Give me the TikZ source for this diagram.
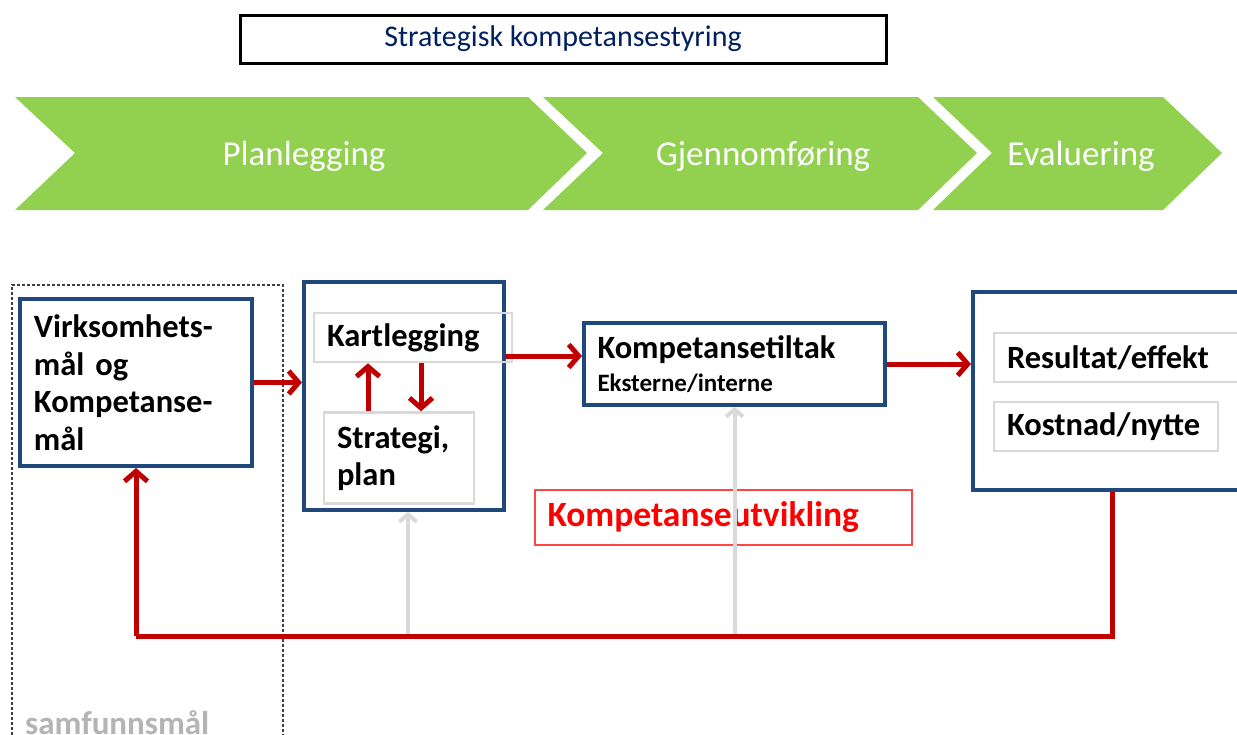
\documentclass[tikz,border=0pt]{standalone}
\usepackage{fontspec}
\setmainfont{Carlito}
\usepackage{tikz}
\usetikzlibrary{arrows.meta}
\usetikzlibrary{positioning}

\definecolor{groenn}{RGB}{146,208,80}
\definecolor{blaa}{RGB}{31,73,125}
\definecolor{marine}{RGB}{0,32,96}
\definecolor{rod}{RGB}{192,0,0}
\definecolor{lysrod}{RGB}{255,70,70}
\definecolor{lysgraa}{RGB}{217,217,217}
\definecolor{mgraa}{RGB}{180,180,180}

\tikzset{
  stor/.style={font=\bfseries\fontsize{32.5}{37.5}\selectfont},
  blaboks/.style={draw=blaa,line width=4pt,stor,align=left,inner xsep=13pt},
  graaboks/.style={draw=lysgraa,line width=2.5pt,stor,align=left,inner xsep=12pt},
  fase/.style={text=white,font=\fontsize{35}{40}\selectfont},
  pil/.style={draw=rod,line width=5pt,-{Straight Barb[length=10pt,width=23pt]}},
  linje/.style={draw=rod,line width=5pt},
  graapil/.style={draw=lysgraa,line width=4pt,-{Straight Barb[length=7pt,width=17pt]}}
}

\begin{document}
\begin{tikzpicture}[x=1pt,y=-1pt]
\clip (0,0) rectangle (1237,734);
\fill[white] (0,0) rectangle (1237,734);

\node[draw=black,line width=3pt,minimum width=646,minimum height=48,text=marine,font=\fontsize{30}{34}\selectfont] (tittel) at (563,39) {Strategisk kompetansestyring};

% faser
\fill[groenn] (15,97) -- (528,97) -- (587,153) -- (528,210) -- (15,210) -- (75,153) -- cycle;
\fill[groenn] (543,97) -- (918,97) -- (977,153) -- (918,210) -- (543,210) -- (603,153) -- cycle;
\fill[groenn] (933,97) -- (1163,97) -- (1222,153) -- (1163,210) -- (933,210) -- (992,153) -- cycle;
\node[fase] (plan) at (304,156) {Planlegging};
\node[fase] (gjen) at (763,156) {Gjennomføring};
\node[fase] (eval) at (1081,156) {Evaluering};

\draw[black!75,line width=1.2pt,dash pattern=on 3pt off 2pt] (12,760) -- (12,285) -- (283,285) -- (283,760);

\node[blaboks,minimum width=232,minimum height=167,text width=204] (virk) at (136,382.5) {Virksomhets-\\mål og\\Kompetanse-\\mål};
\node[blaboks,minimum width=200,minimum height=228] (steg) at (404,396) {};
\node[graaboks,minimum width=198,minimum height=49,text width=172] (kart) at (413,337.5) {Kartlegging};
\node[graaboks,minimum width=150,minimum height=91,text width=124] (strat) at (399,458) {Strategi,\\plan};
\node[blaboks,minimum width=301,minimum height=82,text width=274] (tiltak) at (734.5,364) {Kompetansetiltak\\[-5pt]{\fontsize{25}{28}\selectfont Eksterne/interne}};
\node[blaboks,minimum width=278,minimum height=198] (resul) at (1112,391) {};
\node[graaboks,minimum width=266,minimum height=49,text width=240] (effekt) at (1127,357.5) {Resultat/effekt};
\node[graaboks,minimum width=224,minimum height=49,text width=198] (nytte) at (1106,426.5) {Kostnad/nytte};
\node[draw=lysrod,line width=1.5pt,minimum width=377,minimum height=55,text width=352,inner xsep=12pt,align=left,text=red,font=\bfseries\fontsize{35.5}{38}\selectfont] (utv) at (723.5,517.5) {Kompetanseutvikling};

\node[anchor=base west,text=mgraa,font=\bfseries\fontsize{33}{36}\selectfont,inner sep=0pt] (samf) at (25,734) {samfunnsmål};

\coordinate (bunn) at (0,636);

\draw[pil] (virk.east) -- (virk.east -| steg.west);
\draw[pil] ([yshift=8pt]tiltak.west -| steg.east) -- ([yshift=8pt]tiltak.west);
\draw[pil] (tiltak.east) -- (tiltak.east -| resul.west);
\draw[pil] ([xshift=-31pt]strat.north) -- ([xshift=-31pt]strat.north |- kart.south);
\draw[pil] ([xshift=22pt]strat.north |- kart.south) -- ([xshift=22pt]strat.north);

\draw[graapil] ([xshift=4pt]steg.south |- bunn) -- ([xshift=4pt]steg.south);
\draw[graapil] (tiltak.south |- bunn) -- (tiltak.south);
\draw[linje] (resul.south) |- (bunn -| virk.south);
\draw[pil] (bunn -| virk.south) -- (virk.south);
\end{tikzpicture}
\end{document}
